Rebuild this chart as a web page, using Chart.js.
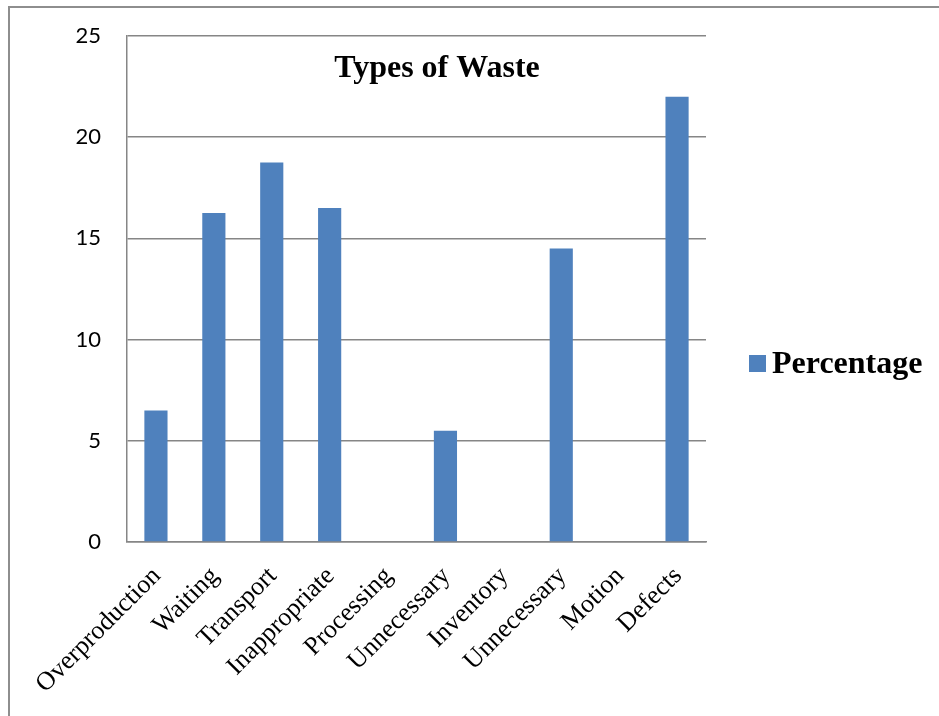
<!DOCTYPE html>
<html>
<head>
<meta charset="utf-8">
<script src="https://cdn.jsdelivr.net/npm/chart.js@4/dist/chart.umd.min.js"></script>
<style>
  html, body { margin: 0; padding: 0; background: #ffffff; overflow: hidden; }
  #wrap { position: relative; width: 939px; height: 716px; }
  #frame { position: absolute; left: 8px; top: 6px; width: 1000px; height: 800px;
           border: 2px solid #8e8e8e; box-sizing: border-box; }
  #c { position: absolute; left: 0; top: 0; }
</style>
</head>
<body>
<div id="wrap">
  <div id="frame"></div>
  <canvas id="c" width="939" height="716"></canvas>
</div>
<script>
// Waste categories and their share (%)
const categories = ['Overproduction', 'Waiting', 'Transport', 'Inappropriate', 'Processing',
                    'Unnecessary', 'Inventory', 'Unnecessary', 'Motion', 'Defects'];
const percentages = [6.5, 16.25, 18.75, 16.5, 0, 5.5, 0, 14.5, 0, 22];
const yTicks = [0, 5, 10, 15, 20, 25];
const chartTitle = 'Types of Waste';
const seriesName = 'Percentage';

const BAR_BLUE = '#4F81BD';
const GRID_GREY = '#868686';

// Title drawn inside the plot area
const plotTitle = {
  id: 'plotTitle',
  afterDraw(chart) {
    const ctx = chart.ctx;
    ctx.save();
    ctx.font = 'bold 32px "Liberation Serif", "Times New Roman", serif';
    ctx.fillStyle = '#000';
    ctx.textAlign = 'center';
    ctx.textBaseline = 'alphabetic';
    ctx.fillText(chartTitle, 437, 77);
    ctx.restore();
  }
};

// Legend on the right: square swatch + series name
const sideLegend = {
  id: 'sideLegend',
  afterDraw(chart) {
    const ctx = chart.ctx;
    const ds = chart.data.datasets[0];
    const x = chart.chartArea.right + 43;
    const yMid = 363;
    ctx.save();
    ctx.fillStyle = ds.backgroundColor;
    ctx.fillRect(x, yMid - 8, 17, 17);
    ctx.font = 'bold 32px "Liberation Serif", "Times New Roman", serif';
    ctx.fillStyle = '#000';
    ctx.textAlign = 'left';
    ctx.textBaseline = 'alphabetic';
    ctx.fillText(ds.label, x + 23, yMid + 10);
    ctx.restore();
  }
};

new Chart(document.getElementById('c'), {
  type: 'bar',
  data: {
    labels: categories,
    datasets: [{
      label: seriesName,
      data: percentages,
      backgroundColor: BAR_BLUE,
      borderWidth: 0,
      categoryPercentage: 1.0,
      barPercentage: 0.4
    }]
  },
  options: {
    responsive: false,
    animation: false,
    devicePixelRatio: 1,
    layout: { padding: { left: 0, top: 36, right: 233, bottom: 0 } },
    plugins: {
      legend: { display: false },
      title: { display: false },
      tooltip: { enabled: false }
    },
    scales: {
      x: {
        grid: { display: false, drawTicks: false },
        border: { display: true, color: GRID_GREY, width: 1.5 },
        ticks: {
          autoSkip: false,
          minRotation: 45,
          maxRotation: 45,
          padding: 19,
          labelOffset: 1,
          color: '#000',
          font: { family: '"Liberation Serif", "Times New Roman", serif', size: 26 }
        },
        afterFit(scale) { scale.height = 174; }
      },
      y: {
        min: 0,
        max: 25,
        afterBuildTicks(scale) { scale.ticks = yTicks.map(v => ({ value: v })); },
        grid: { color: GRID_GREY, lineWidth: 1.5, drawTicks: false },
        border: { display: true, color: GRID_GREY, width: 1.5 },
        ticks: {
          padding: 26,
          color: '#000',
          font: { family: 'Lato, "Open Sans", sans-serif', size: 22 }
        },
        afterFit(scale) {
          scale.width = 127;
          scale.paddingTop = 0;
          scale.paddingBottom = 0;
        }
      }
    }
  },
  plugins: [plotTitle, sideLegend]
});
</script>
</body>
</html>
